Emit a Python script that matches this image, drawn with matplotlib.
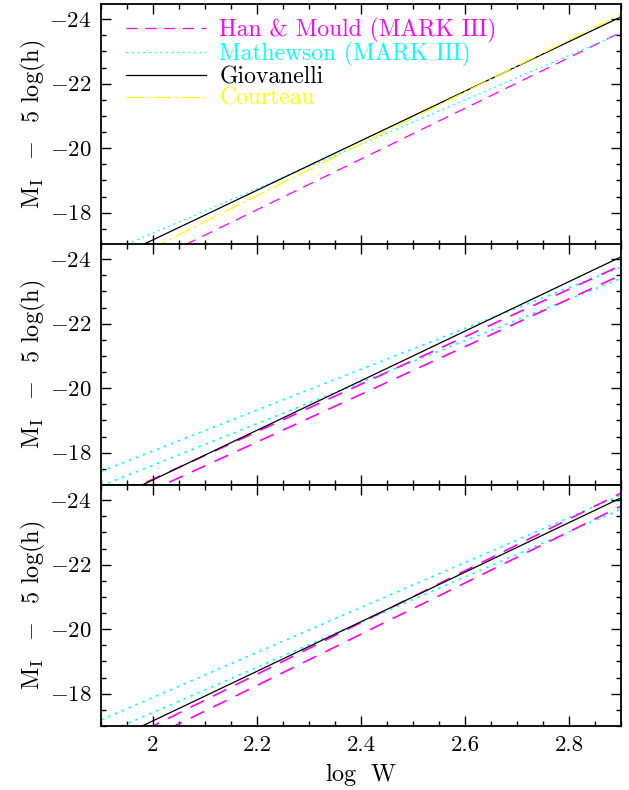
import numpy as np
import matplotlib
matplotlib.use('Agg')
import matplotlib.pyplot as plt
from matplotlib.ticker import MultipleLocator, FuncFormatter

plt.rcParams['font.family'] = ['cmr10', 'DejaVu Serif']
plt.rcParams['mathtext.fontset'] = 'cm'
plt.rcParams['axes.formatter.use_mathtext'] = True

# TF relations: M = zp + slope*(logW - 2.5)
logw = np.array([1.9, 2.9])

# panel 1
p1_names = ['Han & Mould (MARK III)', 'Mathewson (MARK III)', 'Giovanelli', 'Courteau']
p1_zp = [-20.45, -20.81, -21.00, -20.94]
p1_slope = [-7.86, -6.88, -7.68, -8.04]

# panel 2
p2_han_zp = [-20.86, -20.55]
p2_han_slope = [-7.36, -7.39]
p2_mat_zp = [-21.22, -20.83]
p2_mat_slope = [-6.33, -6.43]

# panel 3
p3_han_zp = [-21.01, -20.64]
p3_han_slope = [-8.02, -7.94]
p3_mat_zp = [-21.37, -20.92]
p3_mat_slope = [-6.97, -7.00]

gio_zp, gio_slope = -21.00, -7.68

styles = {
    'han': dict(color='#ff00ff', dashes=(9, 6)),
    'mat': dict(color='#00ffff', dashes=(1.5, 3)),
    'gio': dict(color='black'),
    'cou': dict(color='#ffff00', dashes=(14, 3, 2, 3)),
}


def tf(zp, slope):
    return zp + slope * (logw - 2.5)


def xfmt(v, pos):
    s = '%g' % round(v, 2)
    return s


def yfmt(v, pos):
    return r'$-$%d' % abs(round(v)) if v < 0 else '%d' % round(v)


fig = plt.figure(figsize=(6.29, 7.90), dpi=100)
left, width = 101 / 629, 520 / 629
tops = [4, 244, 485]
axs = []
for t in tops:
    ax = fig.add_axes([left, 1 - (t + 241) / 790, width, 241 / 790])
    axs.append(ax)

ax = axs[0]
keys = ['han', 'mat', 'gio', 'cou']
for k, name, zp, s in zip(keys, p1_names, p1_zp, p1_slope):
    ax.plot(logw, tf(zp, s), lw=0.9, label=name, **styles[k])
leg = ax.legend(loc='upper left', bbox_to_anchor=(0.012, 1.022), frameon=False,
                fontsize=17, handlelength=3.4, handletextpad=0.55,
                labelspacing=-0.03, borderaxespad=0.4)
for txt, k in zip(leg.get_texts(), keys):
    txt.set_color(styles[k]['color'])

for ax, hz, hs, mz, ms in [(axs[1], p2_han_zp, p2_han_slope, p2_mat_zp, p2_mat_slope),
                           (axs[2], p3_han_zp, p3_han_slope, p3_mat_zp, p3_mat_slope)]:
    for zp, s in zip(mz, ms):
        ax.plot(logw, tf(zp, s), lw=1.2, **styles['mat'])
    for zp, s in zip(hz, hs):
        ax.plot(logw, tf(zp, s), lw=1.2, **styles['han'])
    ax.plot(logw, tf(gio_zp, gio_slope), lw=0.9, **styles['gio'])

for i, ax in enumerate(axs):
    ax.set_xlim(1.9, 2.9)
    ax.set_ylim(-17, -24.47)
    ax.xaxis.set_major_locator(MultipleLocator(0.2))
    ax.xaxis.set_minor_locator(MultipleLocator(0.05))
    ax.yaxis.set_major_locator(MultipleLocator(2))
    ax.yaxis.set_minor_locator(MultipleLocator(0.5))
    ax.xaxis.set_major_formatter(FuncFormatter(xfmt))
    ax.yaxis.set_major_formatter(FuncFormatter(yfmt))
    ax.tick_params(which='both', direction='in', top=True, right=True, width=1.0)
    ax.tick_params(which='major', length=7, labelsize=16.5, pad=7)
    ax.tick_params(which='minor', length=3.5)
    for sp in ax.spines.values():
        sp.set_linewidth(1.3)
    ax.set_ylabel(r'$\mathrm{M_I\ \ -\ \ 5\ log(h)}$', fontsize=17.5, labelpad=1)
    if i < 2:
        ax.tick_params(labelbottom=False)

axs[2].set_xlabel(r'$\mathrm{log\ \ W}$', fontsize=17.5, labelpad=4)
fig.savefig('out.png', dpi=100)
